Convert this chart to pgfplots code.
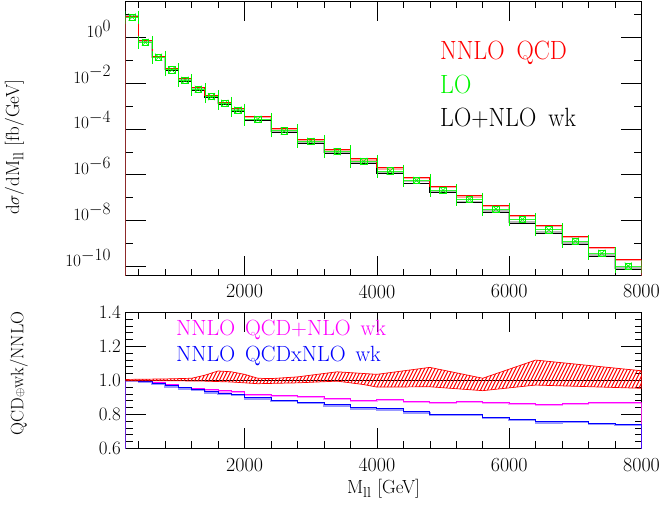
\documentclass[border=0pt]{standalone}
\usepackage{graphicx}
\usepackage{pgfplots}
\usepackage{pgfplotstable}
\pgfplotsset{compat=1.18}
\usetikzlibrary{patterns}

\definecolor{tdRed}{RGB}{255,0,0}
\definecolor{tdGreen}{RGB}{0,245,0}
\definecolor{tdMag}{RGB}{255,0,255}
\definecolor{tdBlue}{RGB}{0,0,255}

% steep single hatching for the scale band
\pgfdeclarepatternformonly{steephatch}{\pgfqpoint{-1pt}{-1pt}}{\pgfqpoint{4.5pt}{8pt}}{\pgfqpoint{3.5pt}{7pt}}{
  \pgfsetlinewidth{0.95pt}
  \pgfpathmoveto{\pgfqpoint{0pt}{0pt}}
  \pgfpathlineto{\pgfqpoint{3.5pt}{7pt}}
  \pgfusepath{stroke}
}

% bin left edges; first/last rows close the histograms down to the axis
\pgfplotstableread{
x     nnlo      lowk      add    mul
200   1e-12     1e-12     0      0
200   8.51      7.41      1.000  1.000
400   0.708     0.575     0.995  0.995
600   0.148     0.129     0.985  0.982
800   0.0447    0.0363    0.975  0.968
1000  0.0158    0.0123    0.961  0.957
1200  6.46e-3   5.01e-3   0.951  0.947
1400  2.95e-3   2.40e-3   0.945  0.933
1600  1.48e-3   1.23e-3   0.938  0.923
1800  7.59e-4   6.03e-4   0.936  0.918
2000  3.55e-4   2.34e-4   0.918  0.898
2400  1.07e-4   7.08e-5   0.914  0.882
2800  3.63e-5   2.40e-5   0.908  0.872
3200  1.32e-5   8.51e-6   0.894  0.857
3600  5.01e-6   3.16e-6   0.884  0.839
4000  2.04e-6   1.15e-6   0.888  0.833
4400  7.94e-7   4.37e-7   0.878  0.815
4800  3.09e-7   1.62e-7   0.871  0.800
5200  1.20e-7   6.17e-8   0.876  0.800
5600  4.57e-8   2.34e-8   0.871  0.784
6000  1.74e-8   7.76e-9   0.865  0.770
6400  6.17e-9   2.75e-9   0.861  0.757
6800  2.09e-9   9.12e-10  0.865  0.759
7200  6.76e-10  2.82e-10  0.871  0.749
7600  2.04e-10  7.59e-11  0.871  0.741
8000  2.04e-10  7.59e-11  0.871  0.741
8000  1e-12     1e-12     0      0
}\histo

% LO points at bin centres, half bin width
\pgfplotstableread{
xc    hw   lo
300   100  7.59
500   100  0.603
700   100  0.135
900   100  0.0380
1100  100  0.0132
1300  100  5.37e-3
1500  100  2.57e-3
1700  100  1.32e-3
1900  100  6.61e-4
2200  200  2.63e-4
2600  200  8.13e-5
3000  200  2.88e-5
3400  200  1.02e-5
3800  200  3.80e-6
4200  200  1.45e-6
4600  200  5.62e-7
5000  200  2.09e-7
5400  200  8.51e-8
5800  200  3.16e-8
6200  200  1.12e-8
6600  200  3.89e-9
7000  200  1.26e-9
7400  200  3.72e-10
7800  200  1.02e-10
}\lopts

\pgfplotsset{
  tdbase/.style={
    scale only axis, width=516pt,
    xmin=200, xmax=8000,
    xtick={2000,4000,6000,8000},
    xticklabels={2000,4000,6000,8000},
    minor xtick={400,800,...,7600},
    tick align=inside,
    major tick length=20pt, minor tick length=7pt,
    every tick/.style={black, line width=0.6pt},
    axis line style={line width=0.8pt},
    tick label style={font=\fontsize{19}{20}\selectfont},
    xticklabel style={font=\fontsize{20}{20}\selectfont},
  },
  hist/.style={const plot mark left, line width=0.8pt},
  lite/.style={const plot mark left, line width=1.4pt},
}

\begin{document}
\begin{tikzpicture}
\useasboundingbox (0pt,0pt) rectangle (664pt,504pt);

\begin{axis}[tdbase, at={(125.5pt,228.3pt)}, anchor=south west, height=274.7pt,
  ymode=log, ymin=3.9e-11, ymax=38.5,
  ytick={1e-10,1e-8,1e-6,1e-4,1e-2,1},
  minor ytick={1e-9,1e-7,1e-5,1e-3,1e-1,10},
  yticklabels={$10^{\textstyle -10}$,$10^{\textstyle -8}$,$10^{\textstyle -6}$,
               $10^{\textstyle -4}$,$10^{\textstyle -2}$,$10^{\textstyle 0}$},
  yticklabel style={anchor=base east, xshift=-11pt},
  xticklabel style={yshift=-5.5pt}]
\addplot[lite, tdRed!35, yshift=-1.2pt] table[x=x, y=nnlo] {\histo};
\addplot[lite, gray!55, yshift=1.2pt] table[x=x, y=lowk] {\histo};
\addplot[hist, black] table[x=x, y=lowk] {\histo};
\addplot[hist, tdRed] table[x=x, y=nnlo] {\histo};
\addplot[only marks, mark=square, mark size=3.2pt, tdGreen, line width=0.7pt,
  error bars/.cd, x dir=both, x explicit,
  error bar style={tdGreen!80, line width=1pt},
  error mark options={rotate=90, draw=tdGreen, line width=0.6pt, mark size=6.5pt}]
  table[x=xc, y=lo, x error=hw] {\lopts};
\addplot[only marks, mark=x, mark size=5pt, tdGreen, line width=0.6pt]
  table[x=xc, y=lo] {\lopts};
\end{axis}

\begin{axis}[tdbase, at={(125.5pt,55.7pt)}, anchor=south west, height=136pt,
  ymin=0.6, ymax=1.4,
  ytick={0.6,0.8,1.0,1.2,1.4}, minor y tick num=4,
  yticklabels={0.6,0.8,1.0,1.2,1.4},
  yticklabel style={xshift=-1pt},
  xticklabel style={yshift=-6pt}]
\addplot[lite, tdMag!40, yshift=-1.2pt] table[x=x, y=add] {\histo};
\addplot[lite, tdBlue!40, yshift=-1.2pt] table[x=x, y=mul] {\histo};
\addplot[hist, tdMag] table[x=x, y=add] {\histo};
\addplot[hist, tdBlue] table[x=x, y=mul] {\histo};
\addplot[black, line width=0.8pt] coordinates {(200,1) (8000,1)};
% NNLO scale band: upper edge left to right, lower edge back
\addplot[draw=tdRed, line width=0.7pt, pattern=steephatch, pattern color=tdRed]
  coordinates {
  (200,1.005) (800,1.008) (1200,1.012) (1400,1.03) (1600,1.055) (1800,1.05)
  (2000,1.035) (2200,1.012) (2400,1.01) (2800,1.02) (3200,1.04) (3400,1.05)
  (3600,1.045) (4000,1.035) (4800,1.076) (5600,1.012) (6400,1.119) (8000,1.056)
  (8000,0.953) (6400,0.972) (5600,0.939) (4800,0.962) (4000,0.96) (3800,0.975)
  (3400,0.995) (2800,0.985) (2200,0.98) (1800,0.99) (1400,0.995) (1000,0.997)
  (200,0.997)} -- cycle;
\end{axis}

% axis titles
\node[rotate=90, font=\fontsize{19}{20}\selectfont] at (14.5pt,356.5pt)
  {d$\sigma$/dM$_{\mathrm{ll}}$ [fb/GeV]};
\node[rotate=90, font=\fontsize{18}{20}\selectfont] at (19pt,130.5pt)
  {QCD$\scriptstyle\oplus$wk/NNLO};
\node[font=\fontsize{19}{20}\selectfont] at (383.5pt,15pt)
  {M$_{\mathrm{ll}}$ [GeV]};

% legends
\begin{scope}[every node/.style={anchor=base west, inner sep=0pt}]
\node[text=tdRed, font=\fontsize{24}{26}\selectfont] at (440pt,444pt)
  {\scalebox{1}[1.1]{NNLO\hspace{0.5em}QCD}};
\node[text=tdGreen, font=\fontsize{24}{26}\selectfont] at (440pt,410.7pt)
  {\scalebox{1}[1.1]{LO}};
\node[text=black, font=\fontsize{24}{26}\selectfont] at (440pt,377.3pt)
  {\scalebox{1}[1.1]{LO+NLO\hspace{0.5em}wk}};
\node[text=tdMag, font=\fontsize{22}{24}\selectfont] at (176pt,169pt)
  {NNLO\hspace{0.45em}QCD+NLO\hspace{0.45em}wk};
\node[text=tdBlue, font=\fontsize{22}{24}\selectfont] at (176pt,142.3pt)
  {NNLO\hspace{0.45em}QCDxNLO\hspace{0.45em}wk};
\end{scope}
\end{tikzpicture}
\end{document}
